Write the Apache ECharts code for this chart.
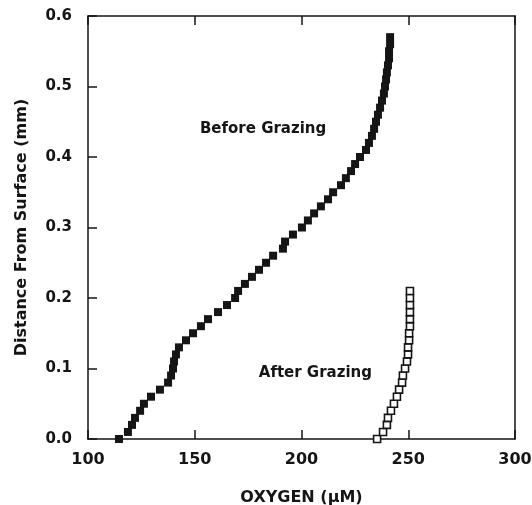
<!DOCTYPE html>
<html>
<head>
<meta charset="utf-8">
<script src="https://cdn.jsdelivr.net/npm/echarts@6/dist/echarts.min.js"></script>
<style>html,body{margin:0;padding:0;background:#fff;}#c{width:532px;height:505px;}</style>
</head>
<body>
<div id="c"></div>
<script>
var xTicks = [100, 150, 200, 250, 300];
var yTicks = [0.0, 0.1, 0.2, 0.3, 0.4, 0.5, 0.6];

var beforeDepth = [0.00,0.01,0.02,0.03,0.04,0.05,0.06,0.07,0.08,0.09,0.10,0.11,0.12,0.13,0.14,0.15,0.16,0.17,0.18,0.19,0.20,0.21,0.22,0.23,0.24,0.25,0.26,0.27,0.28,0.29,0.30,0.31,0.32,0.33,0.34,0.35,0.36,0.37,0.38,0.39,0.40,0.41,0.42,0.43,0.44,0.45,0.46,0.47,0.48,0.49,0.50,0.51,0.52,0.53,0.54,0.55,0.56,0.57];
var beforeOxygen = [114.5,118.7,120.6,122.0,124.4,126.2,129.5,133.7,137.5,138.9,139.8,140.3,141.2,142.6,145.9,149.2,152.9,156.2,160.9,165.1,168.9,170.3,173.5,176.8,180.1,183.4,186.7,191.3,192.3,196.0,200.2,203.0,205.9,209.1,212.4,214.8,218.5,220.8,223.2,225.1,227.4,230.2,231.6,233.0,234.0,234.9,235.8,236.8,237.7,238.6,239.1,239.6,240.0,240.5,241.0,241.0,241.5,241.5];

var afterDepth = [0.00,0.01,0.02,0.03,0.04,0.05,0.06,0.07,0.08,0.09,0.10,0.11,0.12,0.13,0.14,0.15,0.16,0.17,0.18,0.19,0.20,0.21];
var afterOxygen = [235.4,238.2,240.0,240.5,241.9,243.3,244.7,245.7,247.1,247.5,248.5,249.4,249.9,249.9,250.4,250.4,250.8,250.8,250.8,250.8,250.8,250.8];

var labelTexts = ['Before Grazing', 'After Grazing'];
var labelX = [182, 206.5];
var labelY = [0.44, 0.094];

function pairs(xs, ys) {
  var out = [];
  for (var i = 0; i < xs.length; i++) out.push([xs[i], ys[i]]);
  return out;
}

var ink = '#151515';
var font = 'DejaVu Sans';

var chart = echarts.init(document.getElementById('c'), null, {renderer: 'canvas'});
chart.setOption({
  animation: false,
  backgroundColor: '#fff',
  grid: {left: 88, right: 17, top: 16, bottom: 66, containLabel: false, outerBoundsMode: 'none'},
  xAxis: [{
    type: 'value', min: 100, max: 300, interval: 50,
    name: 'OXYGEN (\u03bcM)', nameLocation: 'middle', nameGap: 51,
    nameTextStyle: {fontFamily: font, fontWeight: 'bold', fontSize: 16, color: ink},
    axisLine: {show: true, lineStyle: {color: ink, width: 1.5}},
    axisTick: {show: true, inside: true, length: 9, lineStyle: {color: ink, width: 1.5}},
    axisLabel: {margin: 13, fontFamily: font, fontWeight: 'bold', fontSize: 16, color: ink,
      formatter: function (v) { return xTicks.indexOf(v) >= 0 ? String(v) : ''; }},
    splitLine: {show: false}
  }, {
    type: 'value', position: 'top', min: 100, max: 300, interval: 50,
    axisLine: {show: true, onZero: false, lineStyle: {color: ink, width: 1.5}},
    axisTick: {show: true, inside: true, length: 9, lineStyle: {color: ink, width: 1.5}},
    axisLabel: {show: false}, splitLine: {show: false}
  }],
  yAxis: [{
    type: 'value', min: 0, max: 0.6, interval: 0.1,
    name: 'Distance From Surface (mm)', nameLocation: 'middle', nameGap: 58,
    nameTextStyle: {fontFamily: font, fontWeight: 'bold', fontSize: 16, color: ink},
    axisLine: {show: true, lineStyle: {color: ink, width: 1.5}},
    axisTick: {show: true, inside: true, length: 9, lineStyle: {color: ink, width: 1.5}},
    axisLabel: {margin: 16, fontFamily: font, fontWeight: 'bold', fontSize: 15, color: ink,
      formatter: function (v) { return v.toFixed(1); }},
    splitLine: {show: false}
  }, {
    type: 'value', position: 'right', min: 0, max: 0.6, interval: 0.1,
    axisLine: {show: true, onZero: false, lineStyle: {color: ink, width: 1.5}},
    axisTick: {show: false}, axisLabel: {show: false}, splitLine: {show: false}
  }],
  series: [{
    type: 'scatter', symbol: 'rect', symbolSize: 8,
    itemStyle: {color: ink, opacity: 1},
    data: pairs(beforeOxygen, beforeDepth)
  }, {
    type: 'scatter', symbol: 'rect', symbolSize: 7,
    itemStyle: {color: '#fff', borderColor: ink, borderWidth: 1.6, opacity: 1},
    data: pairs(afterOxygen, afterDepth)
  }, {
    type: 'scatter', symbolSize: 0, silent: true,
    itemStyle: {opacity: 1},
    label: {show: true, position: 'inside', fontFamily: font, fontWeight: 'bold', fontSize: 15, color: ink, opacity: 1,
      formatter: function (p) { return p.data[2]; }},
    data: labelTexts.map(function (t, i) { return [labelX[i], labelY[i], t]; })
  }]
});
</script>
</body>
</html>
